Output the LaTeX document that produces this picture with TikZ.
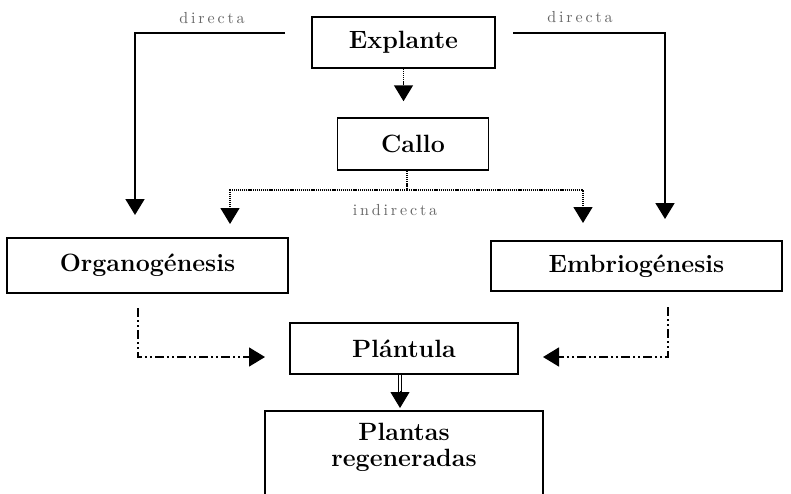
\documentclass[tikz,border=0pt]{standalone}
\usepackage{fontspec}
\newfontfamily\lblfont{lmroman10-regular.otf}[LetterSpace=18]
\usetikzlibrary{arrows.meta,calc}
\begin{document}
\begin{tikzpicture}[x=1pt,y=-1pt,
  box/.style={draw, line width=1.5pt, inner sep=0pt, font=\fontsize{25}{26}\selectfont\bfseries},
  boxtext/.style={inner sep=0pt, align=center, font=\fontsize{25}{26}\selectfont\bfseries},
  lbl/.style={inner sep=0pt, text=black!60, font=\lblfont\fontsize{16}{18}\selectfont},
  tip/.style={-{Triangle[width=19pt,length=16pt]}},
  direct/.style={tip, line width=1.8pt},
  dots/.style={line width=1.5pt, dash pattern=on 1.2pt off 0.9pt},
  dashdot/.style={line width=1.5pt, dash pattern=on 9pt off 3pt on 2pt off 3pt on 2pt off 3pt},
  dbl/.style={line width=1.1pt, double, double distance=2pt},
]
\path[use as bounding box, clip] (0,0) rectangle (791,493);
\fill[white] (0,0) rectangle (791,493);

% boxes
\node[box, minimum width=183pt, minimum height=51pt] (explante) at (403.5,42.5) {Explante};
\node[box, minimum width=151pt, minimum height=52pt] (callo) at (413,144) {Callo};
\node[box, minimum width=281pt, minimum height=55pt] (organo) at (147.5,265.5) {Organogénesis};
\node[box, minimum width=291pt, minimum height=50pt] (embrio) at (636.5,266) {Embriogénesis};
\node[box, minimum width=228pt, minimum height=51pt] (plantula) at (404,348.5) {Plántula};
\node[box, minimum width=278pt, minimum height=120pt, anchor=north] (plantas) at (404,410) {};
\node[boxtext, anchor=north] (plantastxt) at (404,423) {Plantas\\regeneradas};

% labels
\node[lbl] (dirL) at (212,18) {directa};
\node[lbl] (dirR) at (580,17) {directa};
\node[lbl] (indir) at (395,210) {indirecta};

% direct routes
\coordinate (dl) at (285,33);
\coordinate (dlt) at (135,215);
\draw[direct] (dl) -| (dlt);
\coordinate (dr) at (513,33);
\coordinate (drt) at (665,219);
\draw[direct] (dr) -| (drt);

% explante -> callo
\draw[dots, tip] (explante.south) -- ($(explante.south |- callo.north)+(0,-16)$);

% indirect routes
\coordinate (cj) at (407,190);
\coordinate (ilt) at (230,224);
\coordinate (irt) at (583,223);
\draw[dots] (callo.south -| cj) -- (cj);
\draw[dots, tip] (cj) -| (ilt);
\draw[dots, tip] (cj) -| (irt);

% to plantula
\coordinate (os) at (138,308);
\coordinate (ot) at (265,357);
\draw[dashdot, tip] (os) |- (ot);
\coordinate (es) at (668,307);
\coordinate (et) at (543,357);
\draw[dashdot, tip] (es) |- (et);

% plantula -> plantas
\coordinate (pa) at (400,393);
\draw[dbl] (plantula.south -| pa) -- (pa);
\draw[tip, line width=1pt, shorten >=2pt] ([yshift=2pt]pa) -- (plantas.north -| pa);
\end{tikzpicture}
\end{document}
